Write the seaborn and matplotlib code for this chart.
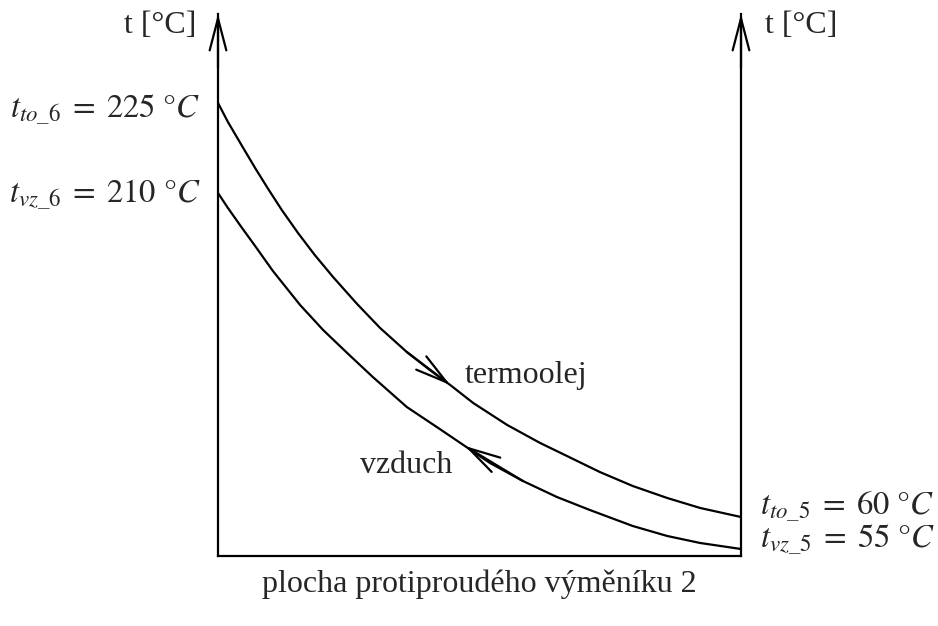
import matplotlib
matplotlib.use('Agg')
import matplotlib.pyplot as plt
import seaborn as sns

# schematic: x = fraction of exchanger area, y = height of curve above base axis
x_oil = [0.0, 0.019, 0.046, 0.071, 0.096, 0.122, 0.153, 0.185, 0.220, 0.266, 0.310, 0.361,
         0.405, 0.444, 0.488, 0.553, 0.616, 0.679, 0.730, 0.793, 0.859, 0.922, 1.0]
y_oil = [453, 434, 410, 388, 367, 346, 323, 301, 279, 252, 228, 204,
         186, 171, 153, 131, 113, 97, 84, 70, 58, 48, 39]

x_air = [0.0, 0.019, 0.046, 0.071, 0.105, 0.157, 0.201, 0.247, 0.296, 0.361,
         0.424, 0.472, 0.520, 0.583, 0.648, 0.711, 0.793, 0.859, 0.922, 1.0]
y_air = [363, 348, 328, 310, 285, 251, 226, 203, 179, 149,
         127, 110, 93, 75, 59, 46, 30, 20, 13, 7]

labels_left = [r'$t_{to\_6}\;=\;225\ °C$', r'$t_{vz\_6}\;=\;210\ °C$']
labels_right = [r'$t_{to\_5}\;=\;60\ °C$', r'$t_{vz\_5}\;=\;55\ °C$']
axis_title = 't [°C]'
x_title = 'plocha protiproudého výměníku 2'

sns.set_style('white')
plt.rcParams['font.family'] = ['Liberation Serif', 'DejaVu Serif']
plt.rcParams['mathtext.fontset'] = 'stix'

fig = plt.figure(figsize=(9.38, 6.26), dpi=100)
ax = fig.add_axes([218 / 938, 70 / 626, 523 / 938, 542 / 626])

sns.lineplot(x=x_oil, y=y_oil, color='black', lw=1.6, sort=False, estimator=None, ax=ax)
sns.lineplot(x=x_air, y=y_air, color='black', lw=1.6, sort=False, estimator=None, ax=ax)

ax.set_xlim(0, 1)
ax.set_ylim(0, 542)
ax.set_xticks([])
ax.set_yticks([])
ax.spines['top'].set_visible(False)
for s in ['left', 'right', 'bottom']:
    ax.spines[s].set_color('black')
    ax.spines[s].set_linewidth(1.6)

# open arrow heads on both vertical axes
arrow = dict(arrowstyle='->,head_length=2.3,head_width=0.6', lw=1.6, color='black',
             mutation_scale=10, shrinkA=0, shrinkB=0)
for xa in [0, 1]:
    ax.annotate('', xy=(xa, 1.0), xytext=(xa, 0.9), xycoords='axes fraction',
                arrowprops=arrow, annotation_clip=False)

# flow direction arrows on the curves
ax.annotate('', xy=(x_oil[13], y_oil[13]), xytext=(x_oil[11], y_oil[11]), arrowprops=arrow)
ax.annotate('', xy=(x_air[11], y_air[11]), xytext=(x_air[13], y_air[13]), arrowprops=arrow)

fs = 23
mfs = 23.5
ax.text(-0.042, 523, axis_title, ha='right', va='baseline', fontsize=fs)
ax.text(1.046, 523, axis_title, ha='left', va='baseline', fontsize=fs)

ax.text(-0.034, 438, labels_left[0], ha='right', va='baseline', fontsize=mfs)
ax.text(-0.034, 353, labels_left[1], ha='right', va='baseline', fontsize=mfs)
ax.text(1.036, 41, labels_right[0], ha='left', va='baseline', fontsize=mfs)
ax.text(1.036, 8, labels_right[1], ha='left', va='baseline', fontsize=mfs)

ax.text(0.472, 173, 'termoolej', ha='left', va='baseline', fontsize=fs)
ax.text(0.449, 83, 'vzduch', ha='right', va='baseline', fontsize=fs)
ax.text(0.5, -36, x_title, ha='center', va='baseline', fontsize=fs)

fig.savefig('out.png', dpi=100)
